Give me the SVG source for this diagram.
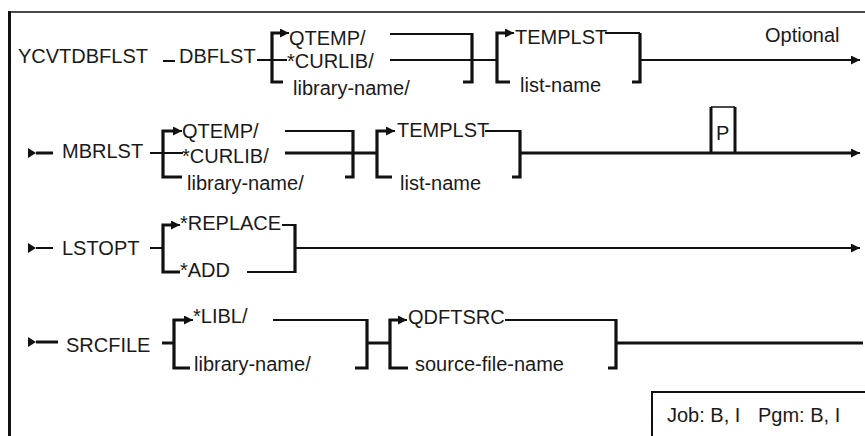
<svg xmlns="http://www.w3.org/2000/svg" width="865" height="436" viewBox="0 0 865 436">
<style>
text{font-family:"Liberation Sans",Arial,sans-serif;font-size:20px;fill:#1a1a1a}
.ln{stroke:#111;stroke-width:2;fill:none}
.tk{stroke:#111;stroke-width:3;fill:none}
.br{stroke:#111;stroke-width:3.2;fill:none}
.th{stroke:#111;stroke-width:1.5;fill:none}
.st{fill:#111}
</style>
<defs>
<marker id="arr" viewBox="0 0 10 10" refX="10" refY="5" markerWidth="9" markerHeight="9" markerUnits="userSpaceOnUse" orient="auto">
<path d="M0,0 L10,5 L0,10 z" fill="#111"/>
</marker>
</defs>
<rect width="865" height="436" fill="#fff"/>
<g id="frame">
<path class="th" d="M8,12 H865"/>
<path class="tk" d="M9.5,11 V436"/>
</g>
<g id="connectors">
<!-- Row 1 -->
<path class="ln" d="M163,61 H175"/>
<path class="ln" d="M257,60 H287"/>
<path class="br" d="M283,33 H272 V82 H283"/>
<path class="ln" d="M272,33 H289" marker-end="url(#arr)"/>
<path class="ln" d="M390,34 H472 M390,60 H472"/>
<path class="br" d="M463,82 H472 V33"/>
<path class="ln" d="M472,60 H497"/>
<path class="br" d="M507,33 H497 V82 H510"/>
<path class="ln" d="M497,33 H514" marker-end="url(#arr)"/>
<path class="ln" d="M605,33 H640"/>
<path class="br" d="M640,33 V82 H632"/>
<path class="ln" d="M640,60 H860" marker-end="url(#arr)"/>
<!-- Row 2 -->
<polygon class="st" points="28,148 36,153 28,158"/>
<path class="tk" d="M36,153 H53"/>
<path class="ln" d="M150,153 H183"/>
<path class="br" d="M175,131 H163 V177 H182"/>
<path class="ln" d="M163,131 H182" marker-end="url(#arr)"/>
<path class="ln" d="M285,131 H353"/>
<path class="tk" d="M285,153 H377"/>
<path class="br" d="M345,177 H353 V130"/>
<path class="br" d="M388,131 H377 V177 H392"/>
<path class="ln" d="M377,131 H395" marker-end="url(#arr)"/>
<path class="ln" d="M485,131 H520"/>
<path class="br" d="M520,130 V177 H512"/>
<path class="tk" d="M520,153 H852"/>
<path class="ln" d="M850,153 H860" marker-end="url(#arr)"/>
<path class="tk" d="M711,153 V107"/>
<path class="tk" d="M735,153 V107"/>
<path class="th" d="M711,107 H735"/>
<!-- Row 3 -->
<polygon class="st" points="28,243 36,248 28,253"/>
<path class="ln" d="M36,248 H53"/>
<path class="ln" d="M150,248 H163"/>
<path class="br" d="M173,225 H163 V272 H180"/>
<path class="ln" d="M163,225 H180" marker-end="url(#arr)"/>
<path class="ln" d="M282,225 H295"/>
<path class="ln" d="M247,272 H295"/>
<path class="br" d="M295,224 V273"/>
<path class="ln" d="M295,248 H860" marker-end="url(#arr)"/>
<!-- Row 4 -->
<polygon class="st" points="28,337 36,342 28,347"/>
<path class="tk" d="M36,342 H58"/>
<path class="tk" d="M162,343 H174"/>
<path class="br" d="M186,320 H174 V368 H190"/>
<path class="ln" d="M174,320 H193" marker-end="url(#arr)"/>
<path class="ln" d="M273,320 H367"/>
<path class="br" d="M355,368 H367 V319"/>
<path class="tk" d="M367,343 H390"/>
<path class="br" d="M400,320 H390 V368 H408"/>
<path class="ln" d="M390,320 H407" marker-end="url(#arr)"/>
<path class="ln" d="M505,320 H616"/>
<path class="br" d="M616,319 V368 H608"/>
<path class="tk" d="M616,343 H863"/>
</g>
<g id="n-ycvtdbflst"><text x="18" y="63">YCVTDBFLST</text></g>
<g id="n-dbflst"><text x="179" y="63">DBFLST</text></g>
<g id="n-qtemp1"><text x="289" y="45">QTEMP/</text></g>
<g id="n-curlib1"><text x="287" y="68">*CURLIB/</text></g>
<g id="n-libname1"><text x="293" y="95">library-name/</text></g>
<g id="n-templst1"><text x="515" y="44">TEMPLST</text></g>
<g id="n-listname1"><text x="520" y="92">list-name</text></g>
<g id="n-optional"><text x="765" y="42">Optional</text></g>
<g id="n-mbrlst"><text x="62" y="158">MBRLST</text></g>
<g id="n-qtemp2"><text x="182" y="138">QTEMP/</text></g>
<g id="n-curlib2"><text x="182" y="163">*CURLIB/</text></g>
<g id="n-libname2"><text x="187" y="190">library-name/</text></g>
<g id="n-templst2"><text x="397" y="137">TEMPLST</text></g>
<g id="n-listname2"><text x="400" y="190">list-name</text></g>
<g id="n-p"><text x="716" y="140">P</text></g>
<g id="n-lstopt"><text x="62" y="255">LSTOPT</text></g>
<g id="n-replace"><text x="180" y="230">*REPLACE</text></g>
<g id="n-add"><text x="180" y="277">*ADD</text></g>
<g id="n-srcfile"><text x="66" y="352">SRCFILE</text></g>
<g id="n-libl"><text x="193" y="323">*LIBL/</text></g>
<g id="n-libname3"><text x="194" y="371">library-name/</text></g>
<g id="n-qdftsrc"><text x="408" y="324">QDFTSRC</text></g>
<g id="n-srcfilename"><text x="415" y="371">source-file-name</text></g>
<g id="n-jobbox">
<path d="M652,440 V392 H870" fill="#fff" stroke="#111" stroke-width="2"/>
<text y="422"><tspan x="667">Job: B, I</tspan><tspan x="758">Pgm: B, I</tspan></text>
</g>
</svg>
